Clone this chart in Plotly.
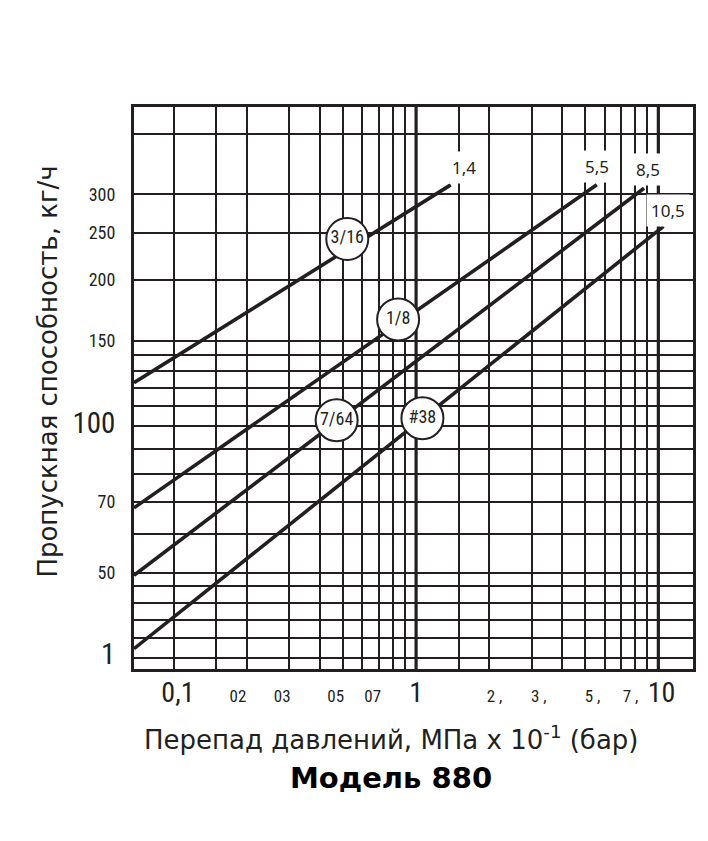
import numpy as np
import plotly.graph_objects as go

# grid of the chart sheet: pressure drop (bar) and flow (kg/h)
x_grid = [0.1, 0.15, 0.2, 0.3, 0.4, 0.5, 0.6, 0.7, 0.8, 0.9,
          1, 1.5, 2, 3, 4, 5, 6, 7, 8, 9, 10]
x_heavy = [1, 10]
y_grid = [400, 300, 250, 200, 150, 140, 130, 120, 110, 100,
          90, 80, 70, 60, 50, 47, 43.3, 40, 36.7, 33.4]

# tick labels as printed on the sheet
x_tick_vals = [0.104, 0.184, 0.28, 0.466, 0.662, 1.0, 2.11, 3.21, 5.35, 7.67, 10.3]
x_tick_text = ["0,1", "02", "03", "05", "07", "1", "2 ,", "3 ,", "5 ,", "7 ,", "10"]
x_tick_big = ["0,1", "1", "10"]
y_tick_vals = [300, 250, 200, 150, 100, 70, 50, 33.4]
y_tick_text = ["300", "250", "200", "150", "100", "70", "50", "1"]
y_tick_big = ["100", "1"]

# orifice curves (straight in log-log)
orifices = ["3/16", "1/8", "7/64", "#38"]
dp_start = [0.0685, 0.0685, 0.0685, 0.0685]
dp_end = [1.39, 5.57, 8.73, 10.5]
flow_start = [123, 68, 49.4, 34.9]
flow_end = [314, 314, 309, 258]

# round badges with orifice names
badge_x = [0.52, 0.843, 0.47, 1.062]
badge_y = [243, 166, 103, 104]

# max pressure drop labels at the line ends
end_text = ["1,4", "5,5", "8,5", "10,5"]
end_x = [1.576, 5.56, 9.10, 11.0]
end_y = [341, 342, 337, 278]

x_range = [0.0685, 13.9]
y_range = [31.7, 454]

INK = "#231f20"
TICK_FONT = "Liberation Sans Narrow, Roboto Condensed, Roboto, Arial, sans-serif"
TITLE_FONT = "DejaVu Sans, sans-serif"


def big(labels, big_ones, size):
    return [f'<span style="font-size:{size}px">{t}</span>' if t in big_ones else t
            for t in labels]


fig = go.Figure()

# heavier decade lines
hx, hy = [], []
for v in x_heavy:
    hx += [v, v, None]
    hy += [y_range[0], y_range[1], None]
fig.add_trace(go.Scatter(x=hx, y=hy, mode="lines", line=dict(color=INK, width=3.2),
                         hoverinfo="skip", showlegend=False))

for i, name in enumerate(orifices):
    fig.add_trace(go.Scatter(x=[dp_start[i], dp_end[i]], y=[flow_start[i], flow_end[i]],
                             mode="lines", name=name,
                             line=dict(color=INK, width=3.6), showlegend=False))

fig.add_trace(go.Scatter(x=badge_x, y=badge_y, mode="markers+text", text=orifices,
                         textposition="middle center",
                         textfont=dict(family=TICK_FONT, size=18, color=INK),
                         marker=dict(size=42, color="white", line=dict(color=INK, width=2)),
                         hoverinfo="skip", showlegend=False))

for t, x, y in zip(end_text, end_x, end_y):
    fig.add_annotation(x=np.log10(x), y=np.log10(y), text=t, showarrow=False,
                       font=dict(family="Noto Sans, sans-serif", size=17, color=INK),
                       bgcolor="white", borderpad=4)

# titles (page body adds 8px offset, so the figure is 8px smaller)
fig.add_annotation(text="Пропускная способность, кг/ч", textangle=-90,
                   xref="paper", yref="paper", x=-0.153, y=0.53,
                   xanchor="center", yanchor="middle",
                   showarrow=False, font=dict(family=TITLE_FONT, size=26, color=INK))
fig.add_annotation(text="Перепад давлений, МПа x 10<sup>-1</sup> (бар)",
                   xref="paper", yref="paper", x=0.46, y=-0.123,
                   xanchor="center", yanchor="middle",
                   showarrow=False, font=dict(family=TITLE_FONT, size=26, color=INK))
fig.add_annotation(text="<b>Модель 880</b>",
                   xref="paper", yref="paper", x=0.46, y=-0.194,
                   xanchor="center", yanchor="middle",
                   showarrow=False, font=dict(family=TITLE_FONT, size=29, color="black"))

axis_common = dict(type="log", showline=True, mirror=True, linecolor=INK, linewidth=3,
                   showgrid=False, zeroline=False, ticks="", tickcolor=INK)

fig.update_layout(
    width=700, height=833,
    margin=dict(l=126, r=13, t=99, b=172),
    paper_bgcolor="white", plot_bgcolor="white",
    xaxis=dict(axis_common, range=list(np.log10(x_range)),
               tickmode="array", tickvals=x_tick_vals,
               ticktext=big(x_tick_text, x_tick_big, 28),
               tickfont=dict(family=TICK_FONT, size=17, color=INK),
               ticklabelstandoff=10,
               minor=dict(tickmode="array", tickvals=x_grid, showgrid=True,
                          gridcolor=INK, gridwidth=2, ticks="")),
    yaxis=dict(axis_common, range=list(np.log10(y_range)),
               tickmode="array", tickvals=y_tick_vals,
               ticktext=big(y_tick_text, y_tick_big, 29),
               tickfont=dict(family=TICK_FONT, size=18, color=INK),
               ticklabelstandoff=12,
               minor=dict(tickmode="array", tickvals=y_grid, showgrid=True,
                          gridcolor=INK, gridwidth=2, ticks="")),
)

fig.write_html("out.html")
